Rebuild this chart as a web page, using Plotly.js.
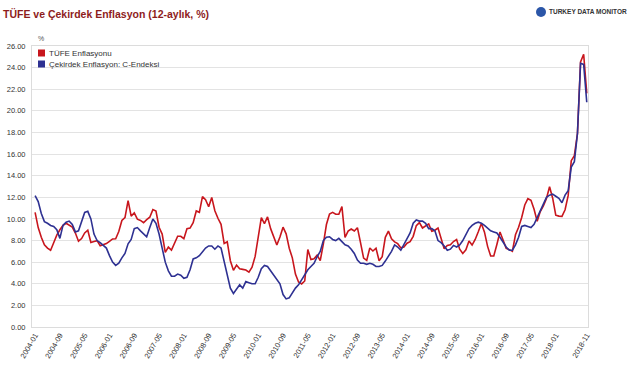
<!DOCTYPE html>
<html>
<head>
<meta charset="utf-8">
<script src="https://cdn.plot.ly/plotly-3.0.1.min.js"></script>
<style>
html,body{margin:0;padding:0;background:#fff;}
#chart{width:628px;height:372px;}
</style>
</head>
<body>
<div id="chart"></div>
<script>
// Categories: monthly, 2004-01 .. 2018-11
const months = [];
for (let y = 2004; y <= 2018; y++) {
  for (let m = 1; m <= 12; m++) {
    if (y === 2018 && m > 11) break;
    months.push(y + '-' + (m < 10 ? '0' + m : m));
  }
}

const tickLabels = ['2004-01','2004-09','2005-05','2006-01','2006-09','2007-05','2008-01','2008-09',
  '2009-05','2010-01','2010-09','2011-05','2012-01','2012-09','2013-05','2014-01','2014-09',
  '2015-05','2016-01','2016-09','2017-05','2018-01','2018-11'];

const seriesNames = ['TÜFE Enflasyonu', 'Çekirdek Enflasyon: C-Endeksi'];

const tufe = [
  10.6, 9.2, 8.3, 7.6, 7.3, 7.1, 7.8, 8.5, 9.0, 9.4, 9.6, 9.4,
  9.24, 8.69, 7.94, 8.18, 8.70, 8.95, 7.82, 7.91, 7.99, 7.52, 7.61, 7.72,
  7.93, 8.15, 8.16, 8.83, 9.86, 10.12, 11.69, 10.26, 10.55, 9.98, 9.86, 9.65,
  9.93, 10.16, 10.86, 10.72, 9.23, 8.60, 6.90, 7.39, 7.12, 7.70, 8.40, 8.39,
  8.17, 9.10, 9.15, 9.66, 10.74, 10.61, 12.06, 11.77, 11.13, 11.99, 10.76, 10.06,
  9.50, 7.73, 7.89, 6.13, 5.24, 5.73, 5.39, 5.33, 5.27, 5.08, 5.53, 6.53,
  8.19, 10.13, 9.56, 10.19, 9.10, 8.37, 7.58, 8.33, 9.24, 8.62, 7.29, 6.40,
  4.90, 4.16, 3.99, 4.26, 7.17, 6.24, 6.31, 6.65, 6.15, 7.66, 9.48, 10.45,
  10.61, 10.43, 10.43, 11.14, 8.28, 8.87, 9.07, 8.88, 9.19, 7.80, 6.37, 6.16,
  7.31, 7.03, 7.29, 6.13, 6.51, 8.30, 8.88, 8.17, 7.88, 7.71, 7.32, 7.40,
  7.75, 7.89, 8.39, 9.38, 9.66, 9.16, 9.32, 9.54, 8.86, 8.96, 9.15, 8.17,
  7.24, 7.55, 7.61, 7.91, 8.09, 7.20, 6.81, 7.14, 7.95, 7.58, 8.10, 8.81,
  9.58, 8.78, 7.46, 6.57, 6.58, 7.64, 8.79, 8.05, 7.28, 7.16, 7.00, 8.53,
  9.22, 10.13, 11.29, 11.87, 11.72, 10.90, 9.79, 10.68, 11.20, 11.90, 12.98, 11.92,
  10.35, 10.26, 10.23, 10.85, 12.15, 15.39, 15.85, 17.90, 24.52, 25.24, 21.62
];

const cEndeksi = [
  12.15, 11.6, 10.5, 9.75, 9.6, 9.4, 9.3, 9.0, 8.2, 9.4, 9.7, 9.8,
  9.5, 8.8, 8.9, 9.8, 10.6, 10.7, 10.0, 8.6, 8.0, 7.8, 7.5, 7.3,
  6.6, 6.0, 5.7, 5.9, 6.4, 6.8, 7.7, 8.1, 9.1, 9.2, 8.9, 8.6,
  8.35, 9.2, 10.0, 9.6, 8.6, 7.3, 6.0, 5.2, 4.7, 4.7, 4.9, 4.8,
  4.5, 4.6, 5.3, 6.3, 6.4, 6.6, 7.0, 7.3, 7.5, 7.5, 7.2, 7.5,
  7.3, 6.1, 4.8, 3.6, 3.1, 3.5, 3.9, 3.6, 4.2, 4.1, 4.0, 4.0,
  4.6, 5.4, 5.7, 5.6, 5.2, 4.7, 4.3, 4.0, 3.0, 2.6, 2.7, 3.2,
  3.6, 3.9, 4.4, 4.9, 5.3, 5.6, 5.9, 6.5, 7.0, 8.0, 8.3, 8.35,
  8.1, 8.0, 8.2, 7.9, 7.6, 7.5, 7.2, 6.8, 6.2, 5.9, 5.9, 5.8,
  5.9, 5.8, 5.6, 5.6, 5.7, 6.1, 6.5, 7.0, 7.6, 7.4, 7.1, 7.6,
  8.1, 8.7, 9.6, 9.9, 9.8, 9.8, 9.6, 9.1, 9.1, 8.9, 8.0, 7.8,
  7.5, 7.1, 7.2, 7.55, 7.4, 7.6, 8.0, 8.6, 9.1, 9.4, 9.6, 9.7,
  9.6, 9.4, 9.1, 8.9, 8.8, 8.7, 8.3, 7.8, 7.4, 7.1, 7.1, 7.6,
  8.3, 9.3, 9.4, 9.3, 9.2, 9.5, 10.1, 10.7, 11.4, 12.0, 12.2, 12.3,
  12.1, 11.9, 11.5, 12.2, 12.6, 14.8, 15.3, 17.9, 24.4, 24.3, 20.8
];

const yTicks = [0, 2, 4, 6, 8, 10, 12, 14, 16, 18, 20, 22, 24, 26];

const RED = '#c8161d';
const BLUE = '#2e3192';
const FONT = 'Liberation Sans, Arial, sans-serif';

// pixel helpers for layout-only decorations (plot area 32..588 x 46..327)
const L = 32, R = 40, T = 46, B = 45, W = 628, H = 372;
const pw = W - L - R, ph = H - T - B;
const px = v => (v - L) / pw;
const py = v => (H - B - v) / ph;

const traces = [
  {x: months, y: tufe, type: 'scatter', mode: 'lines', name: seriesNames[0],
   line: {color: RED, width: 1.6}, showlegend: false, hoverinfo: 'x+y'},
  {x: months, y: cEndeksi, type: 'scatter', mode: 'lines', name: seriesNames[1],
   line: {color: BLUE, width: 1.6}, showlegend: false, hoverinfo: 'x+y'}
];

const layout = {
  width: W, height: H,
  margin: {l: L, r: R, t: T, b: B},
  paper_bgcolor: '#fff', plot_bgcolor: '#fff',
  font: {family: FONT, size: 8, color: '#333'},
  xaxis: {
    type: 'category',
    range: [-1, 178.4],
    tickmode: 'array', tickvals: tickLabels, ticktext: tickLabels,
    tickangle: -60, showgrid: false, zeroline: false,
    showline: true, linecolor: '#dcdcdc', linewidth: 1, mirror: true,
    ticks: '', tickfont: {family: FONT, size: 7.5, color: '#333'}
  },
  yaxis: {
    range: [0, 26], tickmode: 'array', tickvals: yTicks,
    ticktext: yTicks.map(v => v.toFixed(2)),
    showgrid: true, gridcolor: '#e3e3e3', gridwidth: 1, zeroline: false,
    showline: true, linecolor: '#dcdcdc', linewidth: 1, mirror: true,
    ticks: '', ticklabelstandoff: 4, tickfont: {family: FONT, size: 7.5, color: '#333'}
  },
  shapes: [
    {type: 'rect', xref: 'paper', yref: 'paper', xsizemode: 'pixel', ysizemode: 'pixel',
     xanchor: px(41.5), yanchor: py(53), x0: -3.5, x1: 3.5, y0: -3.5, y1: 3.5,
     fillcolor: RED, line: {width: 0}},
    {type: 'rect', xref: 'paper', yref: 'paper', xsizemode: 'pixel', ysizemode: 'pixel',
     xanchor: px(41.5), yanchor: py(64), x0: -3.5, x1: 3.5, y0: -3.5, y1: 3.5,
     fillcolor: BLUE, line: {width: 0}},
    // logo globe
    {type: 'circle', xref: 'paper', yref: 'paper', xsizemode: 'pixel', ysizemode: 'pixel',
     xanchor: px(541), yanchor: py(12), x0: -5, x1: 5, y0: -5, y1: 5,
     fillcolor: '#2b56a8', line: {width: 0}},
    {type: 'path', xref: 'paper', yref: 'paper', xsizemode: 'pixel', ysizemode: 'pixel',
     xanchor: px(541), yanchor: py(12),
     path: 'M 0 0 L 0 5 A 5 5 0 0 1 5 0 Z', fillcolor: '#d9262c', line: {width: 0}},
    {type: 'path', xref: 'paper', yref: 'paper', xsizemode: 'pixel', ysizemode: 'pixel',
     xanchor: px(541), yanchor: py(12),
     path: 'M 0 0 L 5 0 A 5 5 0 0 1 0 -5 Z', fillcolor: '#f08a24', line: {width: 0}}
  ],
  annotations: [
    {xref: 'paper', yref: 'paper', x: px(1), y: py(14), xanchor: 'left', yanchor: 'middle',
     text: '<b>TÜFE ve Çekirdek Enflasyon (12-aylık, %)</b>', showarrow: false,
     font: {family: FONT, size: 10.5, color: '#8e1c1c'}},
    {xref: 'paper', yref: 'paper', x: px(547), y: py(12), xanchor: 'left', yanchor: 'middle',
     text: '<b>TURKEY DATA MONITOR</b>', showarrow: false,
     font: {family: FONT, size: 6.5, color: '#333'}},
    {xref: 'paper', yref: 'paper', x: px(41), y: py(38), xanchor: 'center', yanchor: 'middle',
     text: '%', showarrow: false, font: {family: FONT, size: 7, color: '#555'}},
    {xref: 'paper', yref: 'paper', x: px(47), y: py(53), xanchor: 'left', yanchor: 'middle',
     text: seriesNames[0], showarrow: false, font: {family: FONT, size: 8, color: '#333'}},
    {xref: 'paper', yref: 'paper', x: px(47), y: py(64), xanchor: 'left', yanchor: 'middle',
     text: seriesNames[1], showarrow: false, font: {family: FONT, size: 8, color: '#333'}}
  ]
};

Plotly.newPlot('chart', traces, layout, {displayModeBar: false, staticPlot: true});
</script>
</body>
</html>
